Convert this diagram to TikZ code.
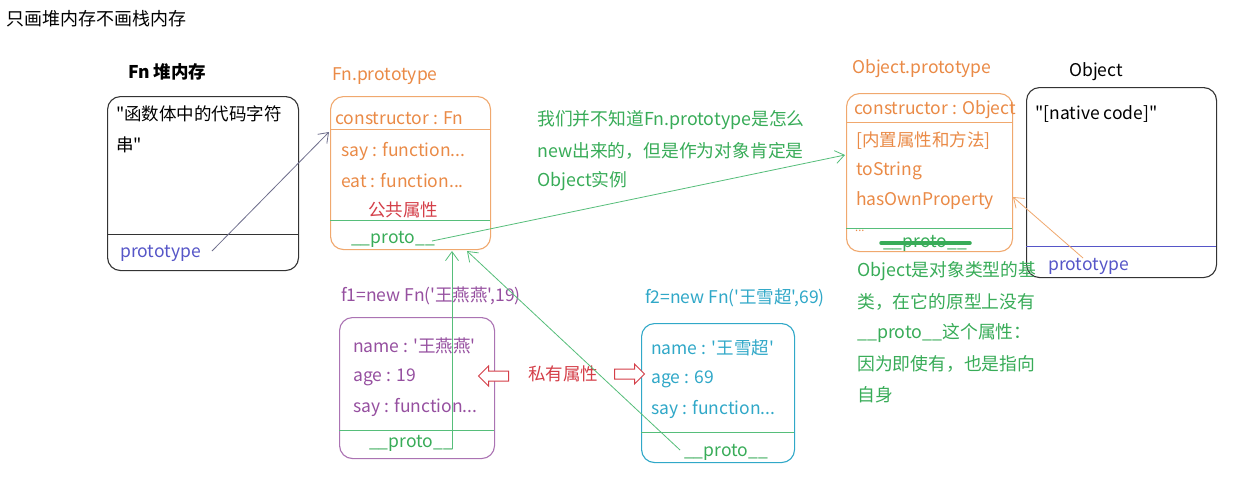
\documentclass[tikz,border=0pt]{standalone}
\usepackage{fontspec}
\setmainfont{Noto Sans CJK SC}[Ligatures=TeXOff]
\usetikzlibrary{arrows.meta,shapes.arrows}
\definecolor{orng}{RGB}{234,138,70}
\definecolor{orngline}{RGB}{240,168,110}
\definecolor{grn}{RGB}{56,172,88}
\definecolor{grnline}{RGB}{86,190,122}
\definecolor{purp}{RGB}{150,80,160}
\definecolor{cyn}{RGB}{48,168,200}
\definecolor{blu}{RGB}{86,86,200}
\definecolor{redd}{RGB}{212,62,72}
\definecolor{grayarr}{RGB}{110,110,140}
\tikzset{
  x=1pt,y=-1pt,
  box/.style={draw,line width=1.1pt,rounded corners=13pt,anchor=north west,inner sep=0pt},
  txt/.style={anchor=west,inner sep=0pt,font=\fontsize{17.5}{20}\selectfont},
  lbl/.style={anchor=west,inner sep=0pt,font=\fontsize{17.5}{20}\selectfont},
  note/.style={anchor=west,inner sep=0pt,font=\fontsize{17.8}{20}\selectfont,text=grn},
  conn/.style={line width=0.8pt,-{Straight Barb[length=9pt,width=13pt,line width=0.8pt]}},
  blockarr/.style={single arrow,draw=redd,fill=white,line width=1pt,minimum height=30pt,minimum width=20pt,single arrow head extend=5pt,inner xsep=0pt,inner ysep=4.5pt}
}
\begin{document}
\begin{tikzpicture}
\useasboundingbox[fill=white] (0,0) rectangle (1234,480);
% title
\node[lbl,font=\fontsize{18}{20}\selectfont] (title) at (6,19) {只画堆内存不画栈内存};
% Fn heap box
\node[lbl,font=\fontsize{17.5}{20}\selectfont\bfseries] (fnlbl) at (128,72) {Fn 堆内存};
\node[box,draw=black!80,minimum width=191pt,minimum height=174pt] (fnbox) at (107,96) {};
\draw[black!80,line width=0.9pt] (107,234) -- (298,234);
\node[txt] (fnt1) at (116,114) {"函数体中的代码字符};
\node[txt] (fnt2) at (116,145) {串"};
\node[txt,text=blu] (fnproto) at (120,253) {prototype};
% Fn.prototype box
\node[lbl,text=orng] (fnplbl) at (332,76) {Fn.prototype};
\node[box,draw=orngline,minimum width=160pt,minimum height=153pt] (fnp) at (330,96) {};
\draw[orngline,line width=1pt] (330,129) -- (490,129);
\draw[grnline,line width=1pt] (330,220) -- (490,220);
\node[txt,text=orng] (fnp1) at (335,118) {constructor : Fn};
\node[txt,text=orng] (fnp2) at (341,151) {say : function...};
\node[txt,text=orng] (fnp3) at (341,181) {eat : function...};
\node[txt,text=redd] (fnp4) at (368,210) {公共属性};
\node[txt,text=grn] (fnp5) at (351,239) {\_\_proto\_\_};
% note 1
\node[note] (n1a) at (537,120) {我们并不知道Fn.prototype是怎么};
\node[note] (n1b) at (537,151) {new出来的，但是作为对象肯定是};
\node[note] (n1c) at (537,181) {Object实例};
% Object.prototype box
\node[lbl,text=orng] (oplbl) at (852,69) {Object.prototype};
\node[box,draw=orngline,minimum width=166pt,minimum height=158pt] (op) at (846,93) {};
\draw[orngline,line width=1pt] (846,122) -- (1012,122);
\draw[grnline,line width=1pt] (846,228) -- (1012,228);
\node[txt,text=orng] (op1) at (854,110) {constructor : Object};
\node[txt,text=orng] (op2) at (856,141) {[内置属性和方法]};
\node[txt,text=orng] (op3) at (856,171) {toString};
\node[txt,text=orng] (op4) at (856,201) {hasOwnProperty};
\node[txt,text=orng,font=\fontsize{11}{12}\selectfont] (op5) at (855,231) {...};
\node[txt,text=grn] (op6) at (883,243) {\_\_proto\_\_};
\draw[grn,line width=3.5pt,line cap=round] (881,243) -- (970,243);
% Object box
\node[lbl] (olbl) at (1069,72) {Object};
\node[box,draw=black!80,minimum width=190pt,minimum height=190pt] (obox) at (1026,87) {};
\draw[blu,line width=0.9pt] (1026,246) -- (1216,246);
\node[txt] (o1) at (1035,114) {"[native code]"};
\node[txt,text=blu] (oproto) at (1048,266) {prototype};
% note 2
\node[note] (n2a) at (857,271) {Object是对象类型的基};
\node[note] (n2b) at (857,302) {类，在它的原型上没有};
\node[note] (n2c) at (857,333) {\_\_proto\_\_这个属性：};
\node[note] (n2d) at (857,364) {因为即使有，也是指向};
\node[note] (n2e) at (857,395) {自身};
% f1
\node[lbl,text=purp] (f1lbl) at (341,296) {f1=new Fn('王燕燕',19)};
\node[box,draw=purp!80,minimum width=155pt,minimum height=141pt] (f1) at (339,317) {};
\draw[grnline,line width=1pt] (339,430) -- (494,430);
\node[txt,text=purp] (f11) at (353,346) {name : '王燕燕'};
\node[txt,text=purp] (f12) at (353,377) {age : 19};
\node[txt,text=purp] (f13) at (353,407) {say : function...};
\node[txt,text=grn] (f14) at (369,443) {\_\_proto\_\_};
% f2
\node[lbl,text=cyn] (f2lbl) at (645,298) {f2=new Fn('王雪超',69)};
\node[box,draw=cyn,minimum width=153pt,minimum height=139pt] (f2) at (641,323) {};
\draw[grnline,line width=1pt] (641,432) -- (794,432);
\node[txt,text=cyn] (f21) at (651,348) {name : '王雪超'};
\node[txt,text=cyn] (f22) at (651,379) {age : 69};
\node[txt,text=cyn] (f23) at (651,409) {say : function...};
\node[txt,text=grn] (f24) at (684,452) {\_\_proto\_\_};
% private attrs
\node[txt,text=redd] (priv) at (528,374) {私有属性};
\node[blockarr,shape border rotate=180,anchor=center] (la) at (496,376) {};
\node[blockarr,anchor=center] (ra) at (627,374) {};
% connectors
\coordinate (c1s) at (212,251);
\coordinate (c1e) at (329,132);
\draw[conn,grayarr] (c1s) -- (c1e);
\coordinate (c2s) at (432,241);
\coordinate (c2e) at (845,155);
\draw[conn,grnline] (c2s) -- (c2e);
\coordinate (c3s) at (1083,258);
\coordinate (c3e) at (1013,197);
\draw[conn,orngline] (c3s) -- (c3e);
\coordinate (c4s) at (452,449);
\coordinate (c4e) at (452,251);
\draw[conn,grnline] (c4s) -- (c4e);
\coordinate (c5s) at (680,450);
\coordinate (c5e) at (467,251);
\draw[conn,grnline] (c5s) -- (c5e);
\end{tikzpicture}
\end{document}
